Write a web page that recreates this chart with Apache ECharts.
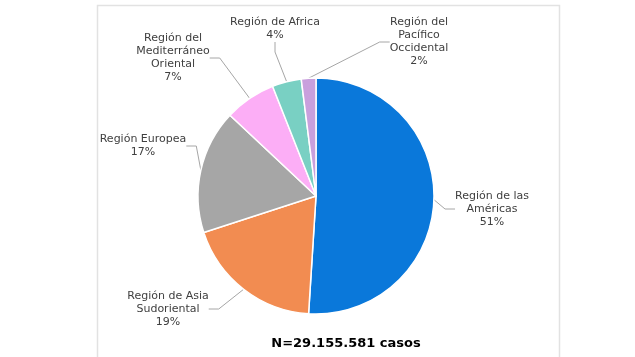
<!DOCTYPE html>
<html>
<head>
<meta charset="utf-8">
<script src="https://cdn.jsdelivr.net/npm/echarts@6/dist/echarts.min.js"></script>
<style>html,body{margin:0;padding:0;background:#fff}#c{width:635px;height:357px}</style>
</head>
<body>
<div id="c"></div>
<script>
const categories = ['Región de las\nAméricas', 'Región de Asia\nSudoriental', 'Región Europea', 'Región del\nMediterráneo\nOriental', 'Región de Africa', 'Región del\nPacífico\nOccidental'];
const values = [51, 19, 17, 7, 4, 2];
const colors = ['#0A78DA', '#F28C51', '#A6A6A6', '#FCAEF6', '#79D0C3', '#C9A0DD'];
const titleText = 'N=29.155.581 casos';

// label anchor positions (label centers) in px
const labelPos = [[492, 209], [168, 309], [143, 146], [173, 58], [275, 29], [419, 42]];

const chart = echarts.init(document.getElementById('c'), null, {renderer: 'canvas'});
chart.setOption({
  backgroundColor: '#ffffff',
  animation: false,
  graphic: [{
    type: 'rect', shape: {x: 97.5, y: 5.5, width: 462, height: 360},
    style: {fill: '#ffffff', stroke: '#E2E2E2', lineWidth: 1.5}, z: -10
  }],
  title: {
    text: titleText, left: 341, top: 332, textAlign: 'center',
    textStyle: {fontFamily: 'DejaVu Sans', fontWeight: 'bold', fontSize: 13, color: '#000'}
  },
  series: [{
    type: 'pie',
    center: [316, 196],
    radius: 118,
    startAngle: 90,
    clockwise: true,
    data: categories.map((c, i) => ({name: c, value: values[i], itemStyle: {color: colors[i]}})),
    itemStyle: {borderColor: '#fff', borderWidth: 1.5},
    label: {
      show: true,
      formatter: '{b}\n{c}%',
      fontFamily: 'DejaVu Sans', fontSize: 11, color: '#404040', lineHeight: 13, align: 'center'
    },
    labelLine: {show: true, length: 10, length2: 10, lineStyle: {color: '#A6A6A6', width: 1}},
    labelLayout: function (p) {
      const pos = labelPos[p.dataIndex];
      return {x: pos[0], y: pos[1], align: 'center', verticalAlign: 'middle'};
    }
  }]
});
</script>
</body>
</html>
